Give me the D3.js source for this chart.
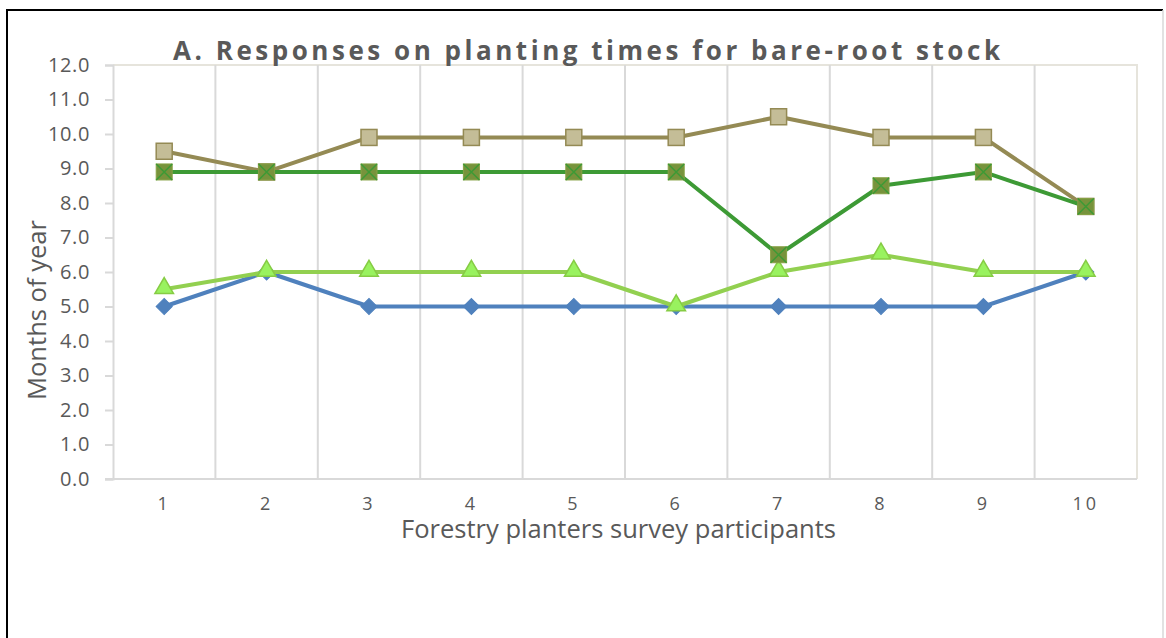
<!DOCTYPE html>
<html>
<head>
<meta charset="utf-8">
<script src="https://cdn.jsdelivr.net/npm/d3@7"></script>
<style>
  html, body { margin: 0; padding: 0; background: #fff; }
  svg { display: block; font-family: "Open Sans", "Noto Sans", sans-serif; }
</style>
</head>
<body>
<svg id="chart" width="1166" height="638"></svg>
<script>
// Survey participants (x categories)
const participants = ["1", "2", "3", "4", "5", "6", "7", "8", "9", "10"];
// Month responses per participant, one array per series
const seriesBlue = [5, 6, 5, 5, 5, 5, 5, 5, 5, 6];
const seriesLightGreen = [5.5, 6, 6, 6, 6, 5, 6, 6.5, 6, 6];
const seriesTan = [9.5, 8.9, 9.9, 9.9, 9.9, 9.9, 10.5, 9.9, 9.9, 7.9];
const seriesDarkGreen = [8.9, 8.9, 8.9, 8.9, 8.9, 8.9, 6.5, 8.5, 8.9, 7.9];
const yTicks = [0, 1, 2, 3, 4, 5, 6, 7, 8, 9, 10, 11, 12];

const titleText = "A. Responses on planting times for bare-root stock";
const xTitle = "Forestry planters survey participants";
const yTitle = "Months of year";

const svg = d3.select("#chart");
const plot = { left: 113, right: 1137, top: 65, bottom: 479 };

const x = d3.scaleBand().domain(participants).range([plot.left, plot.right]);
const y = d3.scaleLinear().domain([0, 12]).range([plot.bottom, plot.top]);
const cx = d => x(d) + x.bandwidth() / 2;

// Outer frame
svg.append("path")
  .attr("d", "M7,638V10H1163")
  .attr("fill", "none").attr("stroke", "#000").attr("stroke-width", 2);
svg.append("line")
  .attr("x1", 1163).attr("x2", 1163).attr("y1", 10).attr("y2", 638)
  .attr("stroke", "#d9d9d9").attr("stroke-width", 1.5);

// Plot area border (top and right)
svg.append("path")
  .attr("d", `M${plot.left},${plot.top}H${plot.right}V${plot.bottom}`)
  .attr("fill", "none").attr("stroke", "#e6e4dc").attr("stroke-width", 2);

// Vertical gridlines at category boundaries
svg.append("g").selectAll("line")
  .data(participants.slice(1))
  .join("line")
  .attr("x1", d => x(d)).attr("x2", d => x(d))
  .attr("y1", plot.top).attr("y2", plot.bottom)
  .attr("stroke", "#d9d9d9").attr("stroke-width", 2);

// Y axis
const yAxis = svg.append("g")
  .attr("transform", `translate(${plot.left},0)`)
  .call(d3.axisLeft(y).tickValues(yTicks).tickFormat(d3.format(".1f")).tickSize(8).tickPadding(15))
  .attr("font-family", null).attr("font-size", null);
yAxis.select(".domain").attr("stroke", "#d9d9d9").attr("stroke-width", 2);
yAxis.selectAll(".tick line").attr("stroke", "#d9d9d9").attr("stroke-width", 2);
yAxis.selectAll(".tick text")
  .attr("fill", "#595959").style("font-size", "20px").style("letter-spacing", "0.6px");

// X axis
const xAxis = svg.append("g")
  .attr("transform", `translate(0,${plot.bottom})`)
  .call(d3.axisBottom(x).tickSize(0).tickPadding(18))
  .attr("font-family", null).attr("font-size", null);
xAxis.select(".domain").remove();
svg.append("line")
  .attr("x1", plot.left - 8).attr("x2", plot.right)
  .attr("y1", plot.bottom).attr("y2", plot.bottom)
  .attr("stroke", "#d9d9d9").attr("stroke-width", 2);
xAxis.selectAll(".tick text")
  .attr("fill", "#595959").style("font-size", "18px").style("letter-spacing", "3px");

// Titles
svg.append("text")
  .attr("x", 173).attr("y", 60)
  .attr("textLength", 827).attr("lengthAdjust", "spacing")
  .attr("fill", "#595959").style("font-size", "26px").style("font-weight", "bold")
  .text(titleText);

svg.append("text")
  .attr("x", 401).attr("y", 538)
  .attr("textLength", 435).attr("lengthAdjust", "spacingAndGlyphs")
  .attr("fill", "#595959").style("font-size", "25px")
  .text(xTitle);

svg.append("text")
  .attr("transform", "translate(46,400) rotate(-90)")
  .attr("x", 0).attr("y", 0)
  .attr("textLength", 180).attr("lengthAdjust", "spacingAndGlyphs")
  .attr("fill", "#595959").style("font-size", "25px")
  .text(yTitle);

// Series lines and markers
const line = d3.line().x((d, i) => cx(participants[i])).y(d => y(d));

function drawLine(values, color) {
  svg.append("path")
    .datum(values)
    .attr("d", line)
    .attr("fill", "none")
    .attr("stroke", color)
    .attr("stroke-width", 4)
    .attr("stroke-linejoin", "round");
}

function markerGroup(values) {
  return svg.append("g").selectAll("g")
    .data(values)
    .join("g")
    .attr("transform", (d, i) => `translate(${cx(participants[i])},${y(d)})`);
}

// Blue diamonds
drawLine(seriesBlue, "#4f81bd");
markerGroup(seriesBlue).append("path")
  .attr("d", d3.symbol(d3.symbolSquare, 130))
  .attr("transform", "rotate(45)")
  .attr("fill", "#4f81bd").attr("stroke", "#4f81bd").attr("stroke-width", 1);

// Light green triangles
drawLine(seriesLightGreen, "#92d050");
markerGroup(seriesLightGreen).append("path")
  .attr("d", d3.symbol(d3.symbolTriangle, 150))
  .attr("transform", "translate(0,-1)")
  .attr("fill", "#99f25f").attr("stroke", "#86cc44").attr("stroke-width", 1.5);

// Tan squares
drawLine(seriesTan, "#948a54");
markerGroup(seriesTan).append("rect")
  .attr("x", -8).attr("y", -8).attr("width", 16).attr("height", 16)
  .attr("fill", "#c4bd97").attr("stroke", "#948a54").attr("stroke-width", 1.5);

// Dark green crossed squares
drawLine(seriesDarkGreen, "#3d9a35");
const dg = markerGroup(seriesDarkGreen);
dg.append("rect")
  .attr("x", -8).attr("y", -8).attr("width", 16).attr("height", 16)
  .attr("fill", "#77933c").attr("stroke", "#86a144").attr("stroke-width", 1);
dg.append("path")
  .attr("d", "M-8,-8L8,8M8,-8L-8,8")
  .attr("stroke", "#3d9a35").attr("stroke-width", 1.5);
</script>
</body>
</html>
